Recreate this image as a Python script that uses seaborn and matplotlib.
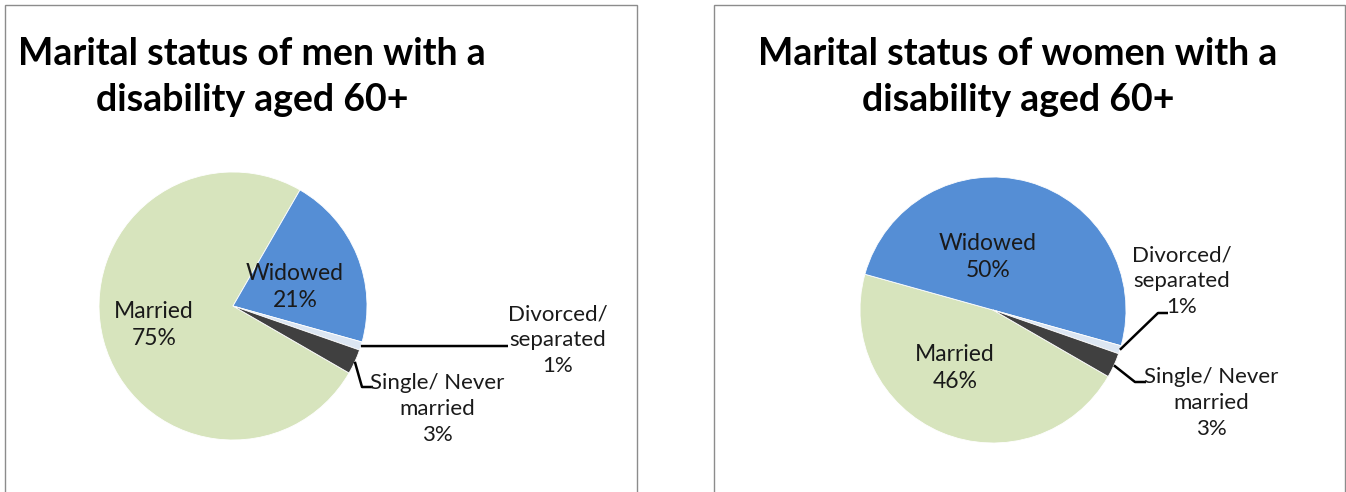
import numpy as np
import matplotlib
matplotlib.use("Agg")
import matplotlib.pyplot as plt
import seaborn as sns
from matplotlib.patches import Rectangle

# data
categories = ["Married", "Widowed", "Divorced/\nseparated", "Single/ Never\nmarried"]
men_pct = [75, 21, 1, 3]
women_pct = [46, 50, 1, 3]
titles = ["Marital status of men with a\ndisability aged 60+",
          "Marital status of women with a\ndisability aged 60+"]
slice_colors = ["#D7E4BD", "#558ED5", "#DCE6F2", "#404040"]

sns.set_theme(style="white")
plt.rcParams['font.family'] = ['Lato', 'DejaVu Sans']

W, H = 1346, 492
fig = plt.figure(figsize=(W / 100, H / 100), dpi=100)
ax = fig.add_axes([0, 0, 1, 1])


def Y(y):
    # image row -> data y
    return H - y


# layout per panel (pixel positions in the picture)
panels = [
    dict(values=men_pct, title=titles[0], box=(5, 637), title_xy=(252, 77),
         center=(233, 306), r=134,
         inside={0: (154, 325), 1: (295, 287)},
         outside={2: ((558, 340), [(508, 346)]),
                  3: ((437, 409), [(362, 387), (373, 387)])}),
    dict(values=women_pct, title=titles[1], box=(714, 1345), title_xy=(1018, 77),
         center=(993, 310), r=133,
         inside={0: (955, 368), 1: (988, 257)},
         outside={2: ((1182, 281), [(1158, 313), (1168, 313)]),
                  3: ((1211, 403), [(1135, 382), (1146, 382)])}),
]

for p in panels:
    x0, x1 = p["box"]
    ax.add_patch(Rectangle((x0, -10), x1 - x0, Y(5) + 10, fill=False,
                           ec="#8c8c8c", lw=1.0, zorder=0))
    ax.text(p["title_xy"][0], Y(p["title_xy"][1]), p["title"], ha="center", va="center",
            multialignment="center", fontsize=27, fontweight="bold", color="black",
            linespacing=1.4)

    cx, cy = p["center"]
    wedges, _ = ax.pie(p["values"], colors=slice_colors, startangle=-30, counterclock=False,
                       center=(cx, Y(cy)), radius=p["r"], frame=True,
                       wedgeprops=dict(linewidth=0.6, edgecolor="white"))

    for i, (tx, ty) in p["inside"].items():
        ax.text(tx, Y(ty), f"{categories[i]}\n{p['values'][i]}%", ha="center", va="center",
                fontsize=16.5, color="#1a1a1a", linespacing=1.3)

    for i, ((tx, ty), pts) in p["outside"].items():
        w = wedges[i]
        mid = np.deg2rad((w.theta1 + w.theta2) / 2)
        ex = cx + p["r"] * np.cos(mid)
        ey = Y(cy) + p["r"] * np.sin(mid)
        xs = [ex] + [q[0] for q in pts]
        ys = [ey] + [Y(q[1]) for q in pts]
        ax.plot(xs, ys, color="black", lw=1.8, solid_capstyle="butt")
        ax.text(tx, Y(ty), f"{categories[i]}\n{p['values'][i]}%", ha="center", va="center",
                multialignment="center", fontsize=16, color="#1a1a1a", linespacing=1.35)

ax.set_xlim(0, W)
ax.set_ylim(0, H)
ax.set_aspect("equal")
ax.axis("off")

fig.savefig("out.png", dpi=100)
